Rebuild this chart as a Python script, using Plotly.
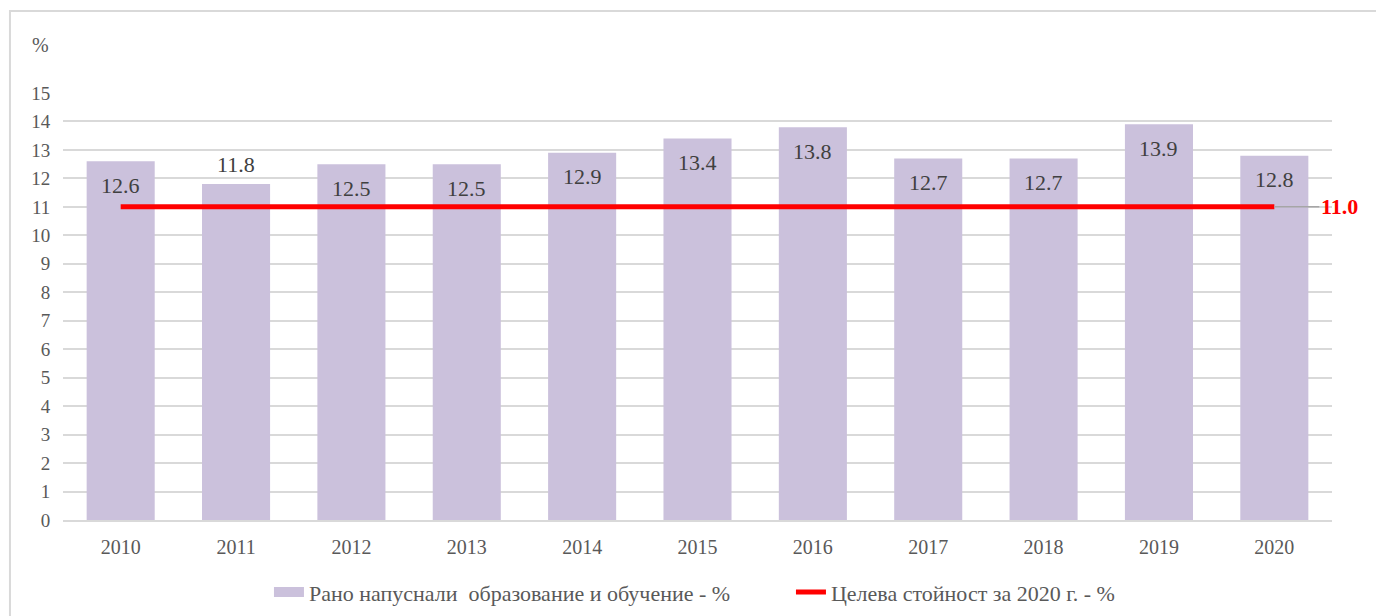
import plotly.graph_objects as go

years = ["2010", "2011", "2012", "2013", "2014", "2015", "2016", "2017", "2018", "2019", "2020"]
early_leavers = [12.6, 11.8, 12.5, 12.5, 12.9, 13.4, 13.8, 12.7, 12.7, 13.9, 12.8]
target = [11.0] * len(years)
label_outside = [False, True, False, False, False, False, False, False, False, False, False]

bar_name = "Рано напуснали  образование и обучение - %"
line_name = "Целева стойност за 2020 г. - %"

FONT = "Liberation Serif, Times New Roman, serif"
BAR_COLOR = "#CBC1DC"

fig = go.Figure()
fig.add_trace(go.Bar(
    x=years, y=early_leavers, name=bar_name, showlegend=False,
    marker=dict(color=BAR_COLOR, line=dict(width=0)),
))
# legend entry for the bars, drawn as a wide rectangle-like swatch
fig.add_trace(go.Scatter(
    x=[None], y=[None], name=bar_name, mode="lines",
    line=dict(color=BAR_COLOR, width=11),
))
fig.add_trace(go.Scatter(
    x=years, y=target, name=line_name, mode="lines",
    line=dict(color="#FF0000", width=5),
))

annotations = []
for i, (v, out) in enumerate(zip(early_leavers, label_outside)):
    annotations.append(dict(
        x=i, y=v, text=f"{v:.1f}", showarrow=False,
        yshift=20 if out else -24,
        font=dict(family=FONT, size=22, color="#404040"),
    ))
annotations.append(dict(
    x=len(years) - 1, y=target[-1], text=f"<b>{target[-1]:.1f}</b>",
    showarrow=True, arrowhead=0, arrowwidth=1.5, arrowcolor="#A6A6A6",
    ax=65, ay=0, font=dict(family=FONT, size=22, color="#FF0000"),
))
annotations.append(dict(
    xref="paper", yref="paper", x=-0.0181, y=1.112, text="%", showarrow=False,
    xanchor="center", yanchor="middle",
    font=dict(family=FONT, size=20, color="#595959"),
))

fig.update_layout(
    width=1376, height=608,
    margin=dict(l=55, r=52, t=85, b=96, autoexpand=False),
    paper_bgcolor="white", plot_bgcolor="white",
    bargap=0.41,
    font=dict(family=FONT, size=20, color="#595959"),
    xaxis=dict(
        type="category", categoryorder="array", categoryarray=years,
        range=[-0.5, len(years) - 0.5], automargin=False,
        showgrid=False, ticks="outside", ticklen=8, tickcolor="rgba(0,0,0,0)",
        showline=True, linecolor="#D9D9D9", linewidth=2,
        tickfont=dict(family=FONT, size=20, color="#595959"),
    ),
    yaxis=dict(
        range=[0, 15], dtick=1, showgrid=True, gridcolor="#D9D9D9", gridwidth=2,
        zeroline=False, ticks="outside", ticklen=8, tickcolor="rgba(0,0,0,0)",
        automargin=False,
        tickfont=dict(family=FONT, size=19, color="#595959"),
    ),
    legend=dict(
        orientation="h", x=0.1623, xanchor="left", y=-0.169, yanchor="middle",
        font=dict(family=FONT, size=22, color="#595959"),
        traceorder="normal", entrywidth=477, entrywidthmode="pixels",
    ),
    annotations=annotations,
    shapes=[dict(
        type="rect", xref="paper", yref="paper",
        x0=-0.0418, x1=1.08, y0=-0.3, y1=1.192,
        line=dict(color="#D9D9D9", width=2), fillcolor="rgba(0,0,0,0)", layer="below",
    )],
)

fig.write_html("out.html")
